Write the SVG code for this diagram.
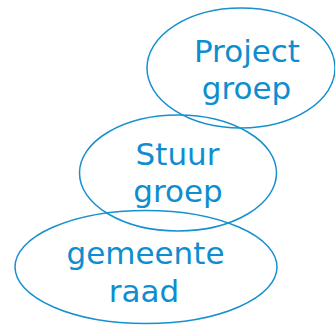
<svg xmlns="http://www.w3.org/2000/svg" width="335" height="325" viewBox="0 0 335 325">
<style>
.shape{fill:none;stroke:#1790d0;stroke-width:1.5}
.lbl{font-family:"DejaVu Sans","Verdana",sans-serif;font-size:31px;fill:#0e8ed0;text-anchor:middle}
</style>
<rect width="335" height="325" fill="#ffffff"/>
<g id="connectors"></g>
<g id="projectgroep">
<ellipse class="shape" cx="241" cy="68" rx="94" ry="60"/>
<text class="lbl" x="247" y="62">Project</text>
<text class="lbl" x="246.5" y="98.5">groep</text>
</g>
<g id="stuurgroep">
<ellipse class="shape" cx="178" cy="173" rx="98.5" ry="58"/>
<text class="lbl" x="177.5" y="165">Stuur</text>
<text class="lbl" x="178" y="202">groep</text>
</g>
<g id="gemeenteraad">
<ellipse class="shape" cx="146" cy="267" rx="131" ry="56.5"/>
<text class="lbl" x="145.5" y="263.5">gemeente</text>
<text class="lbl" x="144" y="302">raad</text>
</g>
</svg>
